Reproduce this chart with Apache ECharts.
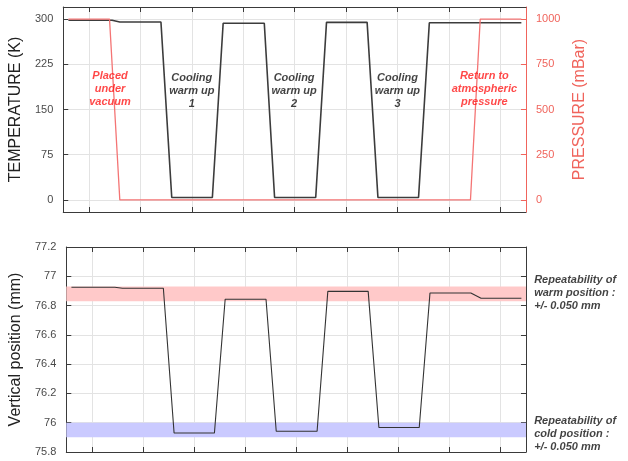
<!DOCTYPE html>
<html><head><meta charset="utf-8">
<script src="https://cdn.jsdelivr.net/npm/echarts@6/dist/echarts.min.js"></script>
<style>html,body{margin:0;padding:0;background:#fff}#c{width:628px;height:461px}</style>
</head><body><div id="c"></div>
<script>
// ---- data ----
const timeTicks = [0.5, 1.5, 2.5, 3.5, 4.5, 5.5, 6.5, 7.5, 8.5];
const tempTicks = [0, 75, 150, 225, 300];
const pressTicks = [0, 250, 500, 750, 1000];
const posTicks = [75.8, 76, 76.2, 76.4, 76.6, 76.8, 77, 77.2];

const tempTime   = [0.1, 0.95, 1.1, 1.9, 2.11, 2.9, 3.11, 3.91, 4.11, 4.91, 5.12, 5.91, 6.12, 6.91, 7.12, 8.91];
const tempValues = [298, 298, 295, 295, 4, 4, 293, 293, 4, 4, 294.5, 294.5, 4, 4, 294, 294];

const pressTime   = [0.1, 0.9, 1.1, 7.92, 8.11, 8.91];
const pressValues = [1000, 1000, 0, 0, 1000, 1000];

const posTime   = [0.1, 0.95, 1.1, 1.9, 2.11, 2.9, 3.11, 3.91, 4.11, 4.91, 5.12, 5.91, 6.12, 6.91, 7.12, 7.92, 8.12, 8.91];
const posValues = [76.925, 76.925, 76.918, 76.918, 75.93, 75.93, 76.843, 76.843, 75.942, 75.942, 76.897, 76.897, 75.967, 75.967, 76.886, 76.886, 76.85, 76.85];

const warmBand = [76.83, 76.93];
const coldBand = [75.9, 76.0];

const redNotes   = ['Placed\nunder\nvacuum', 'Return to\natmospheric\npressure'];
const redNoteX   = [0.91, 8.19];
const redNoteY   = [184, 184];
const blackNotes = ['Cooling\nwarm up\n1', 'Cooling\nwarm up\n2', 'Cooling\nwarm up\n3'];
const blackNoteX = [2.5, 4.49, 6.5];
const blackNoteY = [180, 180, 180];
const sideNotes  = ['Repeatability of\nwarm position :\n+/- 0.050 mm', 'Repeatability of\ncold position :\n+/- 0.050 mm'];
const sideNoteX  = [9.16, 9.16];
const sideNoteY  = [76.888, 75.92];

// ---- styles ----
const FONT = 'Liberation Sans, Arial, sans-serif';
const FRAME = '#3a3a3a';
const GRIDC = '#e3e3e3';
const RED = '#f0645c';
const LBL = '#4a4a4a';

function zip(a, b) { return a.map((v, i) => [v, b[i]]); }

function xAxisDef(gridIndex, position, split) {
  return {
    type: 'value', gridIndex, position, min: 0, max: 9,
    axisLine: { show: true, onZero: false, lineStyle: { color: FRAME, width: 1 } },
    axisTick: { show: true, inside: true, length: 5, customValues: timeTicks, lineStyle: { color: FRAME } },
    axisLabel: { show: false },
    splitLine: { show: split, lineStyle: { color: GRIDC, width: 1 } }
  };
}

const option = {
  animation: false,
  backgroundColor: '#fff',
  grid: [
    { left: 61, top: 7, width: 465, height: 205, containLabel: false },
    { left: 61, top: 247, width: 465, height: 205, containLabel: false }
  ],
  xAxis: [
    xAxisDef(0, 'bottom', true),
    xAxisDef(0, 'top', false),
    xAxisDef(1, 'bottom', true),
    xAxisDef(1, 'top', false)
  ],
  yAxis: [
    {
      type: 'value', gridIndex: 0, position: 'left', min: -20, max: 320,
      name: 'TEMPERATURE (K)', nameLocation: 'middle', nameGap: 29,
      nameTextStyle: { color: '#222', fontSize: 16, fontFamily: FONT },
      axisLine: { show: true, onZero: false, lineStyle: { color: FRAME } },
      axisTick: { show: true, inside: true, length: 5, customValues: tempTicks, lineStyle: { color: FRAME } },
      axisLabel: { customValues: tempTicks, color: LBL, fontSize: 11, fontFamily: FONT, margin: 10,
        formatter: v => String(v) },
      splitLine: { show: true, lineStyle: { color: GRIDC } }
    },
    {
      type: 'value', gridIndex: 0, position: 'right', min: -200 / 3, max: 3200 / 3,
      name: 'PRESSURE (mBar)', nameLocation: 'middle', nameGap: 38,
      nameTextStyle: { color: RED, fontSize: 16, fontFamily: FONT },
      axisLine: { show: true, onZero: false, lineStyle: { color: RED } },
      axisTick: { show: true, inside: true, length: 5, customValues: pressTicks, lineStyle: { color: RED } },
      axisLabel: { customValues: pressTicks, color: RED, fontSize: 11, fontFamily: FONT, margin: 10,
        formatter: v => String(v) },
      splitLine: { show: false }
    },
    {
      type: 'value', gridIndex: 1, position: 'left', min: 75.8, max: 77.2,
      name: 'Vertical position (mm)', nameLocation: 'middle', nameGap: 32,
      nameTextStyle: { color: '#222', fontSize: 16, fontFamily: FONT },
      axisLine: { show: true, onZero: false, lineStyle: { color: FRAME } },
      axisTick: { show: true, inside: true, length: 5, customValues: posTicks, lineStyle: { color: FRAME } },
      axisLabel: { customValues: posTicks, color: LBL, fontSize: 11, fontFamily: FONT, margin: 10,
        formatter: v => String(Number(v.toFixed(2))) },
      splitLine: { show: true, lineStyle: { color: GRIDC } }
    },
    {
      type: 'value', gridIndex: 1, position: 'right', min: 75.8, max: 77.2,
      axisLine: { show: true, onZero: false, lineStyle: { color: FRAME } },
      axisTick: { show: true, inside: true, length: 5, customValues: posTicks, lineStyle: { color: FRAME } },
      axisLabel: { show: false },
      splitLine: { show: false }
    }
  ],
  series: [
    {
      type: 'line', xAxisIndex: 0, yAxisIndex: 0, data: zip(tempTime, tempValues),
      symbol: 'none', lineStyle: { color: '#3c3c3c', width: 1.6 }, z: 3
    },
    {
      type: 'line', xAxisIndex: 0, yAxisIndex: 1, data: zip(pressTime, pressValues),
      symbol: 'none', lineStyle: { color: '#f47474', width: 1.3 }, z: 4
    },
    {
      type: 'line', xAxisIndex: 2, yAxisIndex: 2, data: zip(posTime, posValues),
      symbol: 'none', lineStyle: { color: '#333', width: 1.1 }, z: 4,
      markArea: {
        silent: true,
        data: [
          [{ yAxis: warmBand[0], itemStyle: { color: '#ffc9c9' } }, { yAxis: warmBand[1] }],
          [{ yAxis: coldBand[0], itemStyle: { color: '#cacaff' } }, { yAxis: coldBand[1] }]
        ]
      }
    },
    {
      type: 'scatter', xAxisIndex: 0, yAxisIndex: 0, symbolSize: 0, clip: false, silent: true, z: 5,
      data: zip(redNoteX, redNoteY),
      label: { show: true, position: 'inside', formatter: p => redNotes[p.dataIndex],
        color: '#ff1a1a', fontSize: 11, fontStyle: 'italic', fontWeight: 'bold', lineHeight: 13,
        fontFamily: FONT, align: 'center', verticalAlign: 'middle' }
    },
    {
      type: 'scatter', xAxisIndex: 0, yAxisIndex: 0, symbolSize: 0, clip: false, silent: true, z: 5,
      data: zip(blackNoteX, blackNoteY),
      label: { show: true, position: 'inside', formatter: p => blackNotes[p.dataIndex],
        color: '#111', fontSize: 11, fontStyle: 'italic', fontWeight: 'bold', lineHeight: 13,
        fontFamily: FONT, align: 'center', verticalAlign: 'middle' }
    },
    {
      type: 'scatter', xAxisIndex: 2, yAxisIndex: 2, symbolSize: 0, clip: false, silent: true, z: 5,
      data: zip(sideNoteX, sideNoteY),
      label: { show: true, position: 'inside', formatter: p => sideNotes[p.dataIndex],
        color: '#111', fontSize: 11, fontStyle: 'italic', fontWeight: 'bold', lineHeight: 13,
        fontFamily: FONT, align: 'left', verticalAlign: 'middle' }
    }
  ]
};

const chart = echarts.init(document.getElementById('c'), null, { renderer: 'canvas' });
chart.setOption(option);
</script>
</body></html>
